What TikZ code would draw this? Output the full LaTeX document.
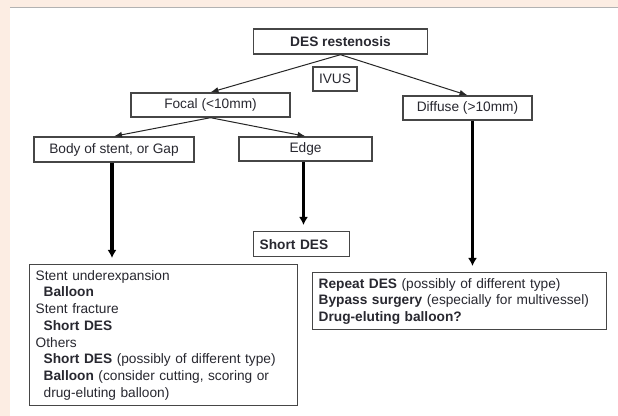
\documentclass[tikz,border=0pt]{standalone}
\usepackage{fontspec}
\setmainfont{Liberation Sans}
\usetikzlibrary{arrows.meta}
\definecolor{bgbeige}{RGB}{252,237,227}
\definecolor{boxgray}{RGB}{70,70,70}
\definecolor{txtgray}{RGB}{40,40,48}

\begin{document}
\begin{tikzpicture}[x=0.5pt,y=-0.5pt,
  flowbox/.style={draw=boxgray,line width=0.7pt,fill=white,text=txtgray,inner sep=0pt,
    minimum height=12pt,font=\fontsize{6.85}{8.35}\selectfont},
  listbox/.style={flowbox,anchor=north west,align=left,inner xsep=3pt,inner ysep=2pt},
  thinarrow/.style={draw=black!85,line width=0.5pt,-{Latex[length=4pt,width=3pt]}},
  thickarrow/.style={draw=black,line width=1.6pt,-{Latex[length=4pt,width=4.5pt]},shorten >=3pt}]
\useasboundingbox (0,0) rectangle (618,416);
% 背景
\fill[bgbeige] (0,0) rectangle (618,416);
\fill[white] (10,8) rectangle (618,416);
\draw[gray!60,line width=0.5pt] (10,8) -- (618,8);
% 方框
\node[flowbox,minimum width=87pt,minimum height=12.5pt] (des) at (340.5,41.5) {\textbf{DES restenosis}};
\node[flowbox,minimum width=22pt] (ivus) at (335,79) {IVUS};
\node[flowbox,minimum width=79.5pt] (focal) at (210.5,105) {Focal (<10mm)};
\node[flowbox,minimum width=64.5pt] (diffuse) at (467.5,108) {Diffuse (>10mm)};
\node[flowbox,minimum width=80pt,minimum height=12.5pt] (body) at (114,149.5) {Body of stent, or Gap};
\node[flowbox,minimum width=66.5pt] (edge) at (305.5,149) {Edge};
\node[listbox,text width=42pt,minimum height=12.5pt] (edgeopt) at (253,231) {\textbf{Short DES}};
\node[listbox,text width=128pt,minimum height=70.5pt] (bodyopts) at (29,264) {Stent underexpansion\\
  \hspace*{4pt}\textbf{Balloon}\\
  Stent fracture\\
  \hspace*{4pt}\textbf{Short DES}\\
  Others\\
  \hspace*{4pt}\textbf{Short DES} (possibly of different type)\\
  \hspace*{4pt}\textbf{Balloon} (consider cutting, scoring or\\
  \hspace*{4pt}drug-eluting balloon)};
\node[listbox,text width=141pt,minimum height=28.5pt] (diffopts) at (312,272) {\textbf{Repeat DES} (possibly of different type)\\
  \textbf{Bypass surgery} (especially for multivessel)\\
  \textbf{Drug-eluting balloon?}};
% 箭头
\draw[thinarrow] (des.south) -- (focal.north);
\draw[thinarrow] (des.south) -- (diffuse.north);
\draw[thinarrow] (focal.south) -- (body.north);
\draw[thinarrow] (focal.south) -- (edge.north);
\draw[thickarrow] ([xshift=-1pt]body.south) -- ([xshift=-1pt]body.south |- bodyopts.north);
\draw[thickarrow] ([xshift=-1pt]edge.south) -- ([xshift=-1pt]edge.south |- edgeopt.north);
\draw[thickarrow] ([xshift=2.5pt]diffuse.south) -- ([xshift=2.5pt]diffuse.south |- diffopts.north);
\end{tikzpicture}
\end{document}
